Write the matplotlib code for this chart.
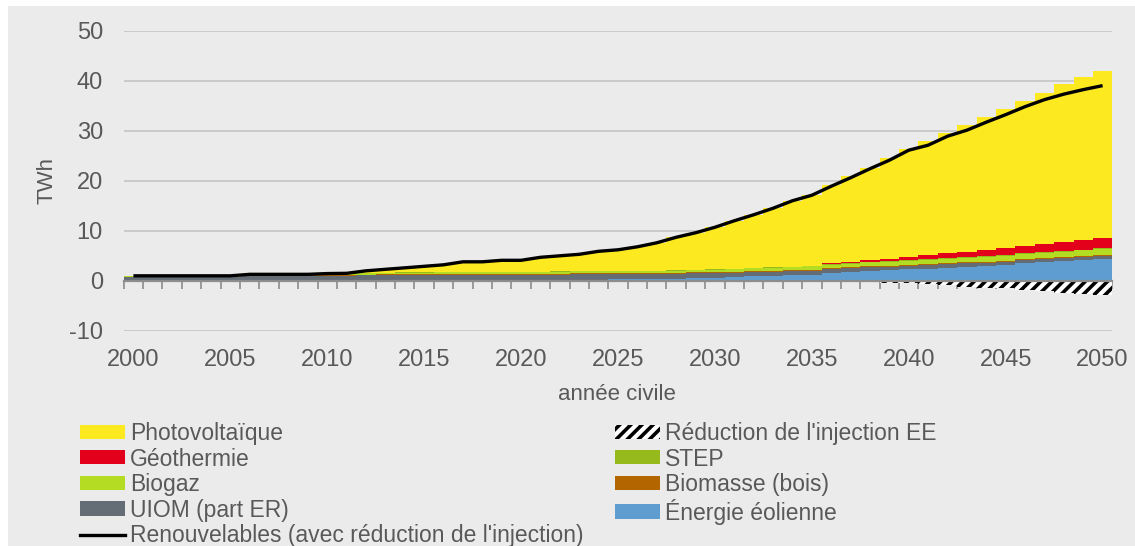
import numpy as np
import matplotlib
matplotlib.use('Agg')
import matplotlib.pyplot as plt
from matplotlib.patches import Rectangle, Patch
from matplotlib.lines import Line2D

plt.rcParams['font.family'] = ['Liberation Sans', 'DejaVu Sans']
plt.rcParams['hatch.linewidth'] = 2.6
plt.rcParams['hatch.color'] = 'black'
plt.rcParams['axes.unicode_minus'] = False

# ── Data (TWh) ────────────────────────────────────────────────────────────────

years = list(range(2000, 2051))

eolien = [0.00, 0.00, 0.00, 0.00, 0.01, 0.01, 0.02, 0.02, 0.02, 0.02,
          0.04, 0.07, 0.09, 0.09, 0.10, 0.11, 0.11, 0.13, 0.12, 0.15,
          0.15, 0.17, 0.20, 0.22, 0.25, 0.28, 0.30, 0.32, 0.35, 0.55,
          0.60, 0.75, 0.90, 1.00, 1.10, 1.25, 1.60, 1.80, 2.00, 2.15,
          2.32, 2.45, 2.65, 2.85, 3.00, 3.20, 3.50, 3.70, 3.90, 4.15, 4.38]

uiom = [0.78, 0.78, 0.77, 0.76, 0.75, 0.74, 0.98, 0.96, 0.95, 0.94,
        1.00, 0.98, 1.02, 1.03, 1.04, 1.05, 1.05, 1.06, 1.05, 1.05,
        1.05, 1.05, 1.05, 1.05, 1.05, 1.05, 1.05, 1.05, 1.05, 0.95,
        0.92, 0.90, 0.88, 0.85, 0.82, 0.80, 0.78, 0.75, 0.72, 0.70,
        0.68, 0.67, 0.67, 0.66, 0.66, 0.66, 0.66, 0.66, 0.66, 0.66, 0.66]

biomasse = [0.05, 0.05, 0.06, 0.06, 0.07, 0.07, 0.08, 0.09, 0.10, 0.11,
            0.12, 0.13, 0.14, 0.15, 0.16, 0.17, 0.18, 0.18, 0.19, 0.20,
            0.20, 0.20, 0.20, 0.20, 0.20, 0.20, 0.21, 0.21, 0.21, 0.21,
            0.21, 0.21, 0.21, 0.20, 0.20, 0.20, 0.20, 0.19, 0.19, 0.19,
            0.18, 0.18, 0.18, 0.17, 0.17, 0.17, 0.16, 0.16, 0.16, 0.15, 0.15]

biogaz = [0.15, 0.15, 0.15, 0.16, 0.16, 0.17, 0.18, 0.18, 0.19, 0.20,
          0.22, 0.25, 0.28, 0.30, 0.32, 0.33, 0.34, 0.35, 0.36, 0.37,
          0.38, 0.38, 0.39, 0.40, 0.40, 0.41, 0.42, 0.42, 0.43, 0.45,
          0.48, 0.50, 0.53, 0.56, 0.60, 0.64, 0.68, 0.72, 0.76, 0.80,
          0.85, 0.88, 0.91, 0.94, 0.97, 1.00, 1.05, 1.08, 1.12, 1.16, 1.20]

step = [0.05, 0.05, 0.05, 0.05, 0.05, 0.05, 0.05, 0.05, 0.05, 0.05,
        0.05, 0.05, 0.05, 0.05, 0.05, 0.05, 0.05, 0.05, 0.05, 0.05,
        0.05, 0.05, 0.05, 0.05, 0.05, 0.05, 0.05, 0.05, 0.05, 0.05,
        0.06, 0.06, 0.06, 0.06, 0.07, 0.07, 0.07, 0.08, 0.08, 0.08,
        0.08, 0.09, 0.09, 0.09, 0.09, 0.10, 0.10, 0.10, 0.10, 0.10, 0.10]

geothermie = [0.0] * 35 + [0.10, 0.15, 0.20, 0.40, 0.45,
                           0.60, 0.90, 1.00, 1.10, 1.20, 1.35,
                           1.45, 1.60, 1.75, 1.90, 2.00]

photovoltaique = [0.01, 0.01, 0.01, 0.02, 0.02, 0.02, 0.02, 0.02, 0.03, 0.03,
                  0.05, 0.10, 0.42, 0.68, 0.93, 1.19, 1.47, 2.03, 2.03, 2.28,
                  2.32, 2.85, 3.11, 3.38, 3.95, 4.21, 4.77, 5.55, 6.61, 7.39,
                  8.43, 9.58, 10.62, 11.83, 13.21, 14.14, 15.57, 17.11, 18.35, 20.23,
                  21.69, 22.83, 24.00, 25.29, 26.61, 27.82, 29.08, 30.30, 31.61, 32.58,
                  33.36]

reduction = [0.0] * 36 + [-0.10, -0.20, -0.30, -0.40,
                          -0.50, -0.70, -0.90, -1.20, -1.35, -1.50,
                          -1.80, -2.10, -2.40, -2.65, -2.80]

renouvelables = [1.0, 1.0, 1.0, 1.0, 1.0, 1.0, 1.3, 1.3, 1.3, 1.3,
                 1.45, 1.5, 2.0, 2.3, 2.6, 2.9, 3.2, 3.8, 3.8, 4.1,
                 4.1, 4.7, 5.0, 5.3, 5.9, 6.2, 6.8, 7.6, 8.7, 9.6,
                 10.7, 12.0, 13.2, 14.5, 16.0, 17.1, 18.9, 20.6, 22.4, 24.1,
                 26.1, 27.1, 28.9, 30.1, 31.7, 33.2, 34.8, 36.2, 37.3, 38.2,
                 39.0]

# stacking order bottom -> top
series = [
    ('Énergie éolienne', eolien, '#5F9DD0'),
    ('UIOM (part ER)', uiom, '#646C76'),
    ('Biomasse (bois)', biomasse, '#B36600'),
    ('Biogaz', biogaz, '#B4DC22'),
    ('STEP', step, '#96BA1C'),
    ('Géothermie', geothermie, '#E2001A'),
    ('Photovoltaïque', photovoltaique, '#FCE91F'),
]

# ── Plot ──────────────────────────────────────────────────────────────────────

BG = '#EBEBEB'
TXT = '#595959'

fig = plt.figure(figsize=(11.35, 5.46), dpi=100, facecolor='white')
fig.patches.append(Rectangle((0.007, 0), 1, 0.989, transform=fig.transFigure,
                             facecolor=BG, edgecolor='none', zorder=-10))
ax = fig.add_axes([0.109, 0.394, 0.871, 0.550])
ax.set_facecolor(BG)

x = np.arange(len(years))
bottom = np.zeros(len(years))
handles = {}
for name, vals, color in series:
    vals = np.array(vals)
    ax.bar(x, vals, width=1.0, bottom=bottom, color=color, linewidth=0, zorder=2)
    bottom += vals
    handles[name] = Patch(facecolor=color, edgecolor='none')

ax.bar(x, reduction, width=1.0, color='white', edgecolor='black', hatch='///',
       linewidth=0, zorder=2)
handles["Réduction de l'injection EE"] = Patch(facecolor='white', edgecolor='black',
                                               hatch='///', linewidth=0)

ax.plot(x, renouvelables, color='black', lw=2.4, zorder=3, solid_capstyle='butt')
handles["Renouvelables (avec réduction de l'injection)"] = Line2D([], [], color='black', lw=2.4)

ax.set_xlim(-0.5, len(years) - 0.5)
ax.set_ylim(-10, 50)
ax.set_yticks(range(-10, 51, 10))
ax.yaxis.grid(True, color='#C4C4C4', lw=1.2, zorder=0)
ax.set_axisbelow(True)

for s in ['top', 'right', 'left']:
    ax.spines[s].set_visible(False)
ax.spines['bottom'].set_position(('data', 0))
ax.spines['bottom'].set_color('#8C8C8C')
ax.spines['bottom'].set_linewidth(1.6)
ax.spines['bottom'].set_zorder(4)

ax.set_xticks(x[::5])
ax.set_xticklabels([str(y) for y in years[::5]])
ax.set_xticks(np.arange(-0.5, len(years), 1.0), minor=True)
ax.tick_params(axis='x', which='major', length=0, pad=49, labelsize=17, labelcolor=TXT)
ax.tick_params(axis='x', which='minor', length=5.5, width=1.2, color='#8C8C8C', direction='out')
ax.tick_params(axis='y', length=0, pad=15, labelsize=17, labelcolor=TXT)

ax.set_ylabel('TWh', fontsize=16, color=TXT, labelpad=8)
fig.text(0.5435, 1 - 395 / 546, 'année civile', fontsize=16, color=TXT,
         ha='center', va='center')

order = ['Photovoltaïque', 'Géothermie', 'Biogaz', 'UIOM (part ER)',
         "Renouvelables (avec réduction de l'injection)",
         "Réduction de l'injection EE", 'STEP', 'Biomasse (bois)', 'Énergie éolienne']
leg = fig.legend([handles[k] for k in order], order, ncol=2, loc='upper left',
                 bbox_to_anchor=(80 / 1135, 1 - 422 / 546), frameon=False,
                 fontsize=16.5, handlelength=1.95, handleheight=0.57,
                 handletextpad=0.22, labelspacing=0.11, columnspacing=1.4,
                 borderpad=0, borderaxespad=0)
for t in leg.get_texts():
    t.set_color(TXT)

fig.savefig('out.png', dpi=100, facecolor=fig.get_facecolor())
